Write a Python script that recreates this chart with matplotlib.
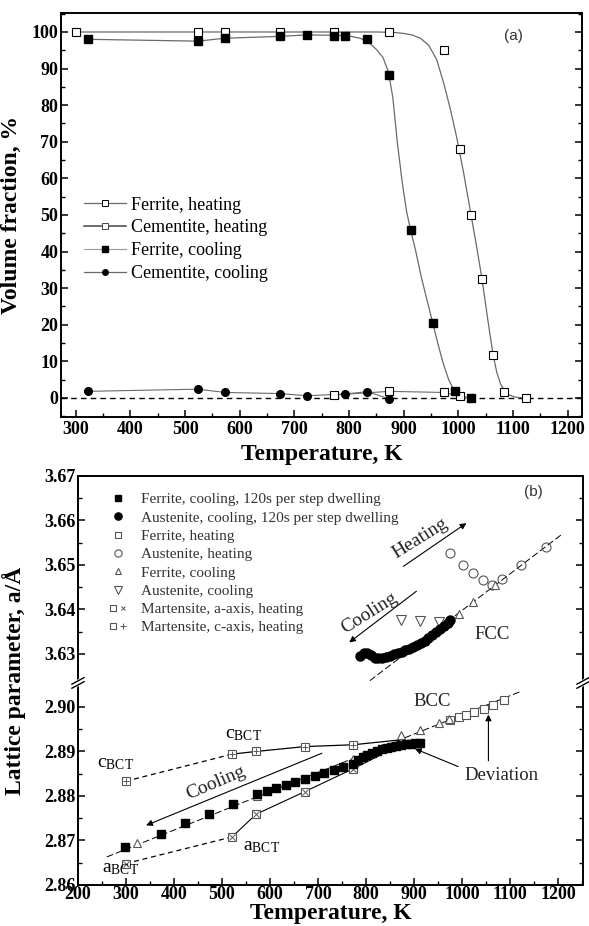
import numpy as np
import matplotlib
matplotlib.use("Agg")
import matplotlib.pyplot as plt
from matplotlib.lines import Line2D
from matplotlib.legend_handler import HandlerTuple
from matplotlib.ticker import FixedLocator, MultipleLocator

plt.rcParams['font.family'] = ['Liberation Serif', 'DejaVu Serif']
plt.rcParams['mathtext.fontset'] = 'custom'
plt.rcParams['mathtext.rm'] = 'Liberation Serif'

# ---- (a) volume fraction data ----
fh_T = [300, 523, 573, 673, 773, 873, 973, 1003, 1023, 1043, 1063, 1083, 1123]
fh_v = [100, 100, 100, 100, 100, 100, 95, 68, 50, 32.5, 11.8, 1.5, 0]
ch_T = [773, 873, 973, 1003]
ch_v = [0.8, 1.8, 1.5, 0.5]
fc_T = [323, 523, 573, 673, 723, 773, 793, 833, 873, 913, 953, 993, 1023]
fc_v = [98, 97.5, 98.3, 98.8, 99.3, 99.0, 99.0, 98.0, 88.3, 46, 20.5, 1.8, 0]
cc_T = [323, 523, 573, 673, 723, 793, 833, 873]
cc_v = [1.8, 2.4, 1.5, 1.2, 0.6, 1.1, 1.7, -0.2]

# fitted curves
fh_fit_T = [300, 850, 880, 900, 915, 930, 945, 960, 973, 985, 997, 1010, 1023, 1033,
            1043, 1053, 1063, 1070, 1077, 1085, 1093, 1102, 1112, 1123]
fh_fit_v = [100, 100, 99.9, 99.6, 99.2, 98.3, 96.5, 92.5, 86, 79, 71, 61, 50, 41.5,
            32.5, 22, 12, 7, 3.8, 1.8, 0.8, 0.3, 0.1, 0]
fc_fit_T = [323, 523, 573, 673, 723, 773, 800, 820, 835, 850, 862, 872, 880, 888,
            897, 905, 913, 922, 932, 942, 952, 962, 972, 982, 992, 1005, 1023]
fc_fit_v = [98, 97.5, 98.3, 98.8, 99.2, 99.1, 98.9, 98.3, 97.3, 95.2, 93, 89, 82, 70,
            59, 51, 45.5, 40, 33, 27, 21, 15, 9.5, 5, 2, 0.4, 0]

# ---- (b) lattice parameter data ----
fc120_T = [298, 373, 423, 473, 523, 573, 593, 613, 633, 653, 673, 693, 713, 733, 753,
           773, 783, 793, 803, 813, 823, 833, 843, 853, 863, 873, 883, 893, 903, 913]
fc120_a = [2.8686, 2.8715, 2.8739, 2.8760, 2.8781, 2.8804, 2.8811, 2.8818, 2.8825,
           2.8831, 2.8837, 2.8844, 2.8851, 2.8858, 2.8865, 2.8872, 2.8880, 2.8887,
           2.8893, 2.8897, 2.8901, 2.8905, 2.8908, 2.8911, 2.8913, 2.8915, 2.8916,
           2.8917, 2.8918, 2.8918]
ac120_T = [788, 795, 802, 810, 818, 826, 834, 842, 850, 858, 866, 874, 882, 890, 898,
           906, 914, 922, 930, 938, 946, 954, 962, 970, 976]
ac120_a = [3.6296, 3.6302, 3.6303, 3.6298, 3.6292, 3.6290, 3.6291, 3.6293, 3.6296,
           3.6299, 3.6302, 3.6305, 3.6309, 3.6312, 3.6316, 3.6320, 3.6325, 3.6330,
           3.6336, 3.6342, 3.6349, 3.6356, 3.6363, 3.6370, 3.6376]
fheat_T = [975, 993, 1008, 1025, 1045, 1065, 1088]
fheat_a = [2.8970, 2.8977, 2.8983, 2.8988, 2.8995, 2.9005, 2.9016]
aheat_T = [975, 1003, 1023, 1043, 1062, 1083, 1123, 1175]
aheat_a = [3.6526, 3.6501, 3.6481, 3.6466, 3.6456, 3.6469, 3.6501, 3.6540]
fcool_T = [323, 523, 573, 673, 773, 793, 833, 873, 913, 953, 973]
fcool_a = [2.8695, 2.8782, 2.8801, 2.8838, 2.8882, 2.8890, 2.8908, 2.8936, 2.8948,
           2.8963, 2.8972]
fcool_fcc_T = [993, 1023, 1068]
fcool_fcc_a = [3.6390, 3.6417, 3.6454]
acool_T = [873, 913, 953]
acool_a = [3.6376, 3.6374, 3.6371]
mart_a_T = [299, 521, 571, 673, 773]
mart_a = [2.8648, 2.8708, 2.8759, 2.8810, 2.8861]
mart_c_T = [299, 521, 571, 673, 773]
mart_c = [2.8833, 2.8894, 2.8900, 2.8911, 2.8915]

bcc_line_T = [260, 1125]
bcc_line_a = [2.8663, 2.9036]
fcc_line_T = [808, 1207]
fcc_line_a = [3.6240, 3.6568]
mart_a_end = (830, 2.8892)
mart_c_end = (871, 2.8926)

# broken axis limits
lo_top, hi_bot = 2.9054, 3.6235
gap = hi_bot - lo_top


def fwd(y):
    y = np.asarray(y, dtype=float)
    return np.where(y <= lo_top, y, np.where(y >= hi_bot, y - gap, lo_top))


def inv(t):
    t = np.asarray(t, dtype=float)
    return np.where(t <= lo_top, t, t + gap)


fig = plt.figure(figsize=(5.89, 9.26), dpi=100)

# ================= panel (a) =================
ax1 = fig.add_axes([0.1036, 0.5497, 0.8846, 0.4363])
gray = '#6a6a6a'
ax1.axhline(0, color='black', ls='--', lw=1.0, dashes=(4, 3), zorder=1)
ax1.plot(fh_fit_T, fh_fit_v, color=gray, lw=0.9)
ax1.plot(fc_fit_T, fc_fit_v, color=gray, lw=0.9)
ax1.plot(ch_T, ch_v, color=gray, lw=0.8)
ax1.plot(cc_T, cc_v, color=gray, lw=0.8)
ax1.plot(fh_T, fh_v, 's', ms=5.5, mfc='white', mec='black', mew=0.8, zorder=3)
ax1.plot(ch_T, ch_v, 's', ms=5.5, mfc='white', mec='black', mew=0.8, zorder=3)
ax1.plot(fc_T, fc_v, 's', ms=5.5, color='black', zorder=3)
ax1.plot(cc_T, cc_v, 'o', ms=5.5, color='black', zorder=3)

ax1.set_xlim(273, 1226)
ax1.set_ylim(-5.2, 105.2)
ax1.xaxis.set_major_locator(MultipleLocator(100))
ax1.xaxis.set_minor_locator(MultipleLocator(50))
ax1.yaxis.set_major_locator(MultipleLocator(10))
ax1.yaxis.set_minor_locator(MultipleLocator(5))
ax1.set_xlabel('Temperature, K', fontsize=17, fontweight='bold')
ax1.set_ylabel('Volume fraction, %', fontsize=17, fontweight='bold')
ax1.xaxis.set_label_coords(0.5, -0.066)
ax1.yaxis.set_label_coords(-0.075, 0.5)
ax1.text(1100, 99, '(a)', family='Liberation Sans', fontsize=11, color='#333333',
         ha='center', va='center')

handles_a = [
    Line2D([], [], color=gray, lw=0.9, marker='s', ms=4, mfc='white', mec='black', mew=0.7),
    Line2D([], [], color='#444444', lw=1.1, marker='s', ms=4, mfc='white', mec='#444444', mew=0.7),
    Line2D([], [], color='#999999', lw=0.8, marker='s', ms=4, mfc='black', mec='black'),
    Line2D([], [], color=gray, lw=0.9, marker='o', ms=4, mfc='black', mec='black'),
]
labels_a = ['Ferrite, heating', 'Cementite, heating', 'Ferrite, cooling', 'Cementite, cooling']
ax1.legend(handles_a, labels_a, loc='center left', bbox_to_anchor=(0.02, 0.44),
           frameon=False, fontsize=13, handlelength=2.3, handletextpad=0.3,
           labelspacing=0.32, borderpad=0.2)

# ================= panel (b) =================
ax2 = fig.add_axes([0.1324, 0.0443, 0.8574, 0.4417])
ax2.set_yscale('function', functions=(fwd, inv))
mg = '#555555'

ax2.plot(bcc_line_T, bcc_line_a, color='black', lw=0.7, dashes=(7, 3))
ax2.plot(fcc_line_T, fcc_line_a, color='black', lw=0.7, dashes=(7, 3))
ax2.plot(mart_c_T[:2], mart_c[:2], color='black', lw=0.9, dashes=(4, 3))
ax2.plot(mart_c_T[1:] + [mart_c_end[0]], mart_c[1:] + [mart_c_end[1]], color='black', lw=0.9)
ax2.plot(mart_a_T[:2], mart_a[:2], color='black', lw=0.9, dashes=(4, 3))
ax2.plot(mart_a_T[1:] + [mart_a_end[0]], mart_a[1:] + [mart_a_end[1]], color='black', lw=0.8)

h_fc120, = ax2.plot(fc120_T, fc120_a, 's', ms=6, color='black', zorder=4)
h_ac120, = ax2.plot(ac120_T, ac120_a, 'o', ms=6.5, color='black', zorder=4)
h_fh, = ax2.plot(fheat_T, fheat_a, 's', ms=5.5, mfc='white', mec=mg, mew=0.8, zorder=3)
h_ah, = ax2.plot(aheat_T, aheat_a, 'o', ms=6.5, mfc='none', mec=mg, mew=0.8, zorder=3)
h_fcl, = ax2.plot(fcool_T, fcool_a, '^', ms=6, mfc='white', mec=mg, mew=0.8, zorder=3)
ax2.plot(fcool_fcc_T, fcool_fcc_a, '^', ms=6, mfc='white', mec=mg, mew=0.8, zorder=3)
h_acl, = ax2.plot(acool_T, acool_a, 'v', ms=7, mfc='white', mec=mg, mew=0.8, zorder=3)
h_ma1, = ax2.plot(mart_a_T, mart_a, 's', ms=5.5, mfc='white', mec=mg, mew=0.8, zorder=3)
h_ma2, = ax2.plot(mart_a_T, mart_a, 'x', ms=4, mec=mg, mew=0.7, zorder=3)
h_mc1, = ax2.plot(mart_c_T, mart_c, 's', ms=5.5, mfc='white', mec=mg, mew=0.8, zorder=3)
h_mc2, = ax2.plot(mart_c_T, mart_c, '+', ms=5, mec=mg, mew=0.7, zorder=3)

ax2.set_xlim(200, 1252)
ax2.set_ylim(2.86, 3.67)
ax2.xaxis.set_major_locator(MultipleLocator(100))
ax2.xaxis.set_minor_locator(MultipleLocator(50))
yt = [2.86, 2.87, 2.88, 2.89, 2.90, 3.63, 3.64, 3.65, 3.66, 3.67]
ax2.yaxis.set_major_locator(FixedLocator(yt))
ax2.set_yticklabels(['%.2f' % v for v in yt])
ax2.yaxis.set_minor_locator(FixedLocator([2.865, 2.875, 2.885, 2.895,
                                          3.635, 3.645, 3.655, 3.665]))
ax2.set_xlabel('Temperature, K', fontsize=17, fontweight='bold')
ax2.set_ylabel('Lattice parameter, a/Å', fontsize=17, fontweight='bold')
ax2.xaxis.set_label_coords(0.5, -0.045)
ax2.yaxis.set_label_coords(-0.103, 0.5)

# axis break marks
yb = (lo_top - 2.86) / (3.67 - gap - 2.86)
for xb in (0, 1):
    ax2.plot([xb - 0.004, xb + 0.004], [yb - 0.004, yb + 0.004], color='white', lw=4,
             transform=ax2.transAxes, clip_on=False, zorder=10)
    for dy in (-0.005, 0.005):
        ax2.plot([xb - 0.012, xb + 0.012], [yb + dy - 0.008, yb + dy + 0.008],
                 color='black', lw=1.0, transform=ax2.transAxes, clip_on=False, zorder=11)

arrow = dict(arrowstyle='-|>', color='black', lw=0.8, mutation_scale=9, shrinkA=0, shrinkB=0)
ax2.annotate('', xy=(1009, 3.6594), xytext=(878, 3.6497), arrowprops=arrow)
ax2.annotate('', xy=(765, 3.6326), xytext=(905, 3.6441), arrowprops=arrow)
ax2.annotate('', xy=(342, 2.8734), xytext=(708, 2.8896), arrowprops=arrow)
ax2.annotate('', xy=(1055, 2.8983), xytext=(1055, 2.8879), arrowprops=arrow)
ax2.annotate('', xy=(902, 2.8906), xytext=(992, 2.8866), arrowprops=arrow)

tkw = dict(fontsize=14, color='#222222', ha='center', va='center')
ax2.text(912, 3.6560, 'Heating', rotation=32, **tkw)
ax2.text(808, 3.6392, 'Cooling', rotation=32, **tkw)
ax2.text(487, 2.8830, 'Cooling', rotation=23, **tkw)
ax2.text(937, 2.9013, 'BCC', fontsize=13.5, color='#222222', ha='center', va='center')
ax2.text(1062, 3.6344, 'FCC', fontsize=13.5, color='#222222', ha='center', va='center')
ax2.text(1082, 2.8846, 'Deviation', fontsize=13.5, color='#222222', ha='center', va='center')
ax2.text(278, 2.8872, r'$\mathregular{c_{BCT}}$', fontsize=14, ha='center', va='center')
ax2.text(545, 2.8939, r'$\mathregular{c_{BCT}}$', fontsize=14, ha='center', va='center')
ax2.text(288, 2.8637, r'$\mathregular{a_{BCT}}$', fontsize=14, ha='center', va='center')
ax2.text(582, 2.8686, r'$\mathregular{a_{BCT}}$', fontsize=14, ha='center', va='center')
ax2.text(1149, 3.6665, '(b)', family='Liberation Sans', fontsize=11, color='#333333',
         ha='center', va='center')

handles_b = [h_fc120, h_ac120, h_fh, h_ah, h_fcl, h_acl, (h_ma1, h_ma2), (h_mc1, h_mc2)]
labels_b = ['Ferrite, cooling, 120s per step dwelling',
            'Austenite, cooling, 120s per step dwelling',
            'Ferrite, heating', 'Austenite, heating', 'Ferrite, cooling',
            'Austenite, cooling', 'Martensite, a-axis, heating',
            'Martensite, c-axis, heating']
leg = ax2.legend(handles_b, labels_b, loc='upper left', bbox_to_anchor=(0.04, 0.985),
                 frameon=False, fontsize=11, handlelength=1.2, handletextpad=0.9,
                 labelspacing=0.3, borderpad=0.2, markerscale=0.8,
                 handler_map={tuple: HandlerTuple(ndivide=None, pad=0)})
for t in leg.get_texts():
    t.set_color('#333333')

for ax in (ax1, ax2):
    ax.tick_params(which='both', direction='in', right=True, top=False,
                   labelsize=13, pad=3)
    ax.tick_params(which='major', length=5, width=1.1)
    ax.tick_params(which='minor', length=3, width=1.0)
    for lab in ax.get_xticklabels() + ax.get_yticklabels():
        lab.set_fontweight('bold')
    for s in ax.spines.values():
        s.set_linewidth(1.4)
ax1.tick_params(axis='y', pad=2)
ax2.tick_params(axis='y', pad=2)
ax2.tick_params(axis='x', pad=1)

fig.savefig('out.png', dpi=100)
